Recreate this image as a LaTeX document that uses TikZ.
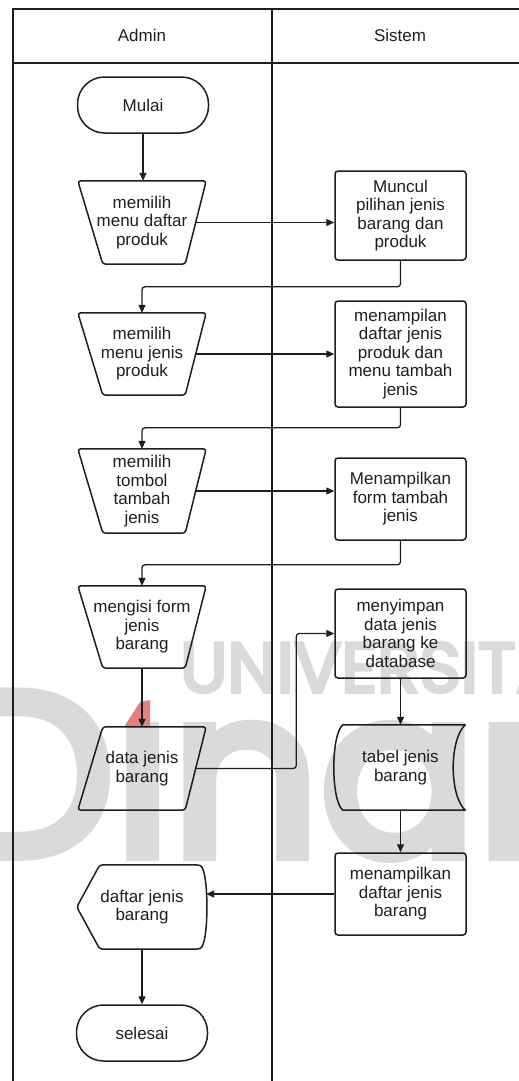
\documentclass[tikz,border=0pt]{standalone}
\usepackage{fontspec}
\setmainfont{Liberation Sans}
\newfontfamily\markfont[FakeBold=5]{Poppins}
\usetikzlibrary{arrows.meta,calc}
\definecolor{ink}{HTML}{1E1E1E}
\definecolor{wmark}{HTML}{DADADA}
\definecolor{wred}{HTML}{E58080}

% outlines for the shapes that are not plain boxes
\newcommand\manualshape[1]{%
  \draw[outline, rounded corners=3pt] (#1.north west) -- (#1.north east)
    -- ($(#1.south east)+(-21,0)$) -- ($(#1.south west)+(25,0)$) -- cycle;}
\newcommand\datashape[1]{%
  \draw[outline, rounded corners=3pt] ($(#1.north west)+(25,0)$) -- (#1.north east)
    -- ($(#1.south east)+(-21,0)$) -- (#1.south west) -- cycle;}
\newcommand\storeshape[1]{%
  \draw[outline] ($(#1.north west)+(8,0)$) -- ($(#1.north east)+(-1,0)$)
    .. controls ($(#1.north east)+(-17,15)$) and ($(#1.south east)+(-17,-15)$) .. ($(#1.south east)+(-1,0)$)
    -- ($(#1.south west)+(8,0)$)
    .. controls ($(#1.south west)+(-4,-10)$) and ($(#1.north west)+(-4,10)$) .. cycle;}
\newcommand\displayshape[1]{%
  \draw[outline, rounded corners=3pt] (#1.west) -- ($(#1.north west)+(23,0)$) -- ($(#1.north east)+(-10,0)$)
    .. controls ($(#1.north east)+(2,3)$) and ($(#1.south east)+(2,-3)$) .. ($(#1.south east)+(-10,0)$)
    -- ($(#1.south west)+(23,0)$) -- cycle;}

\tikzset{
  lab/.style={font=\fontsize{17}{18.5}\selectfont, text=ink, align=center},
  slot/.style={lab, rectangle, inner sep=0pt, draw=none},
  procbox/.style={lab, rectangle, draw=ink, line width=1.5pt, rounded corners=3pt,
    minimum width=131pt, inner sep=0pt},
  term/.style={lab, rectangle, draw=ink, line width=1.5pt, rounded corners=27pt,
    minimum width=131pt, minimum height=56pt},
  outline/.style={draw=ink, line width=1.5pt, line join=round},
  heavy/.style={line width=1.9pt},
  flow/.style={draw=ink, line width=1.3pt, rounded corners=3pt,
    -{Triangle[length=8pt,width=7pt]}},
  lane/.style={draw=ink, line width=2pt},
  wm/.style={text=wmark, inner sep=0pt, anchor=base west},
}

\begin{document}
\begin{tikzpicture}[x=1pt,y=-1pt]
\useasboundingbox (0,0) rectangle (519,1081);

% faint watermark behind the chart
\begin{scope}
  \clip (0,0) rectangle (519,1081);
  \node[wm, font=\markfont\fontsize{70}{70}\selectfont] (wmtop) at (180,692) {UNIVERSITAS};
  \node[wm, font=\markfont\fontsize{232}{232}\selectfont] (wmbig) at (-50,855) {Dınamika};
  \fill[wred] (124,727) -- (140,702) -- (150,700) -- (150,727) -- cycle;
\end{scope}

% swimlane frame
\draw[lane] (13,1095) -- (13,9) -- (530,9);
\draw[lane] (13,63) -- (530,63);
\draw[lane] (272,9) -- (272,1095);
\node[lab] (hadmin) at (142,35) {Admin};
\node[lab] (hsys) at (400,35) {Sistem};

% Admin lane
\node[term] (start) at (143,105) {Mulai};
\node[slot, minimum width=128pt, minimum height=83pt] (t1) at (142,222.5) {memilih\\menu daftar\\produk};
\node[slot, minimum width=128pt, minimum height=82pt] (t2) at (142,354) {memilih\\menu jenis\\produk};
\node[slot, minimum width=128pt, minimum height=84pt] (t3) at (142,491) {memilih\\tombol\\tambah\\jenis};
\node[slot, minimum width=128pt, minimum height=82pt] (t4) at (142,627) {mengisi form\\jenis\\barang};
\node[slot, minimum width=128pt, minimum height=83pt] (dat) at (142,768.5) {data jenis\\barang};
\node[slot, minimum width=130pt, minimum height=84pt] (show) at (142,907) {daftar jenis\\barang};
\node[term] (stop) at (142,1033) {selesai};
\begin{scope}[every path/.append style={heavy}]
\manualshape{t1}
\manualshape{t2}
\manualshape{t3}
\end{scope}
\manualshape{t4}
\datashape{dat}
\displayshape{show}

% Sistem lane
\node[procbox, minimum height=89pt] (b1) at (400.5,215.5) {Muncul\\pilihan jenis\\barang dan\\produk};
\node[procbox, minimum height=106pt] (b2) at (400.5,354) {menampilan\\daftar jenis\\produk dan\\menu tambah\\jenis};
\node[procbox, minimum height=82pt] (b3) at (400.5,499) {Menampilkan\\form tambah\\jenis};
\node[procbox, minimum height=89pt] (b4) at (400.5,633.5) {menyimpan\\data jenis\\barang ke\\database};
\node[slot, minimum width=131pt, minimum height=85pt] (tab) at (400.5,767.5) {tabel jenis\\barang};
\node[procbox, minimum height=82pt] (b5) at (400.5,894) {menampilkan\\daftar jenis\\barang};
\storeshape{tab}

% connectors
\draw[flow] (start.south) -- (start.south |- t1.north);
\draw[flow] ($(t1.east)+(-11,0)$) -- (t1.east -| b1.west);
\draw[flow] (b1.south) -- ++(0,26) -| (t2.north);
\draw[flow] ($(t2.east)+(-11,0)$) -- (t2.east -| b2.west);
\draw[flow] (b2.south) -- ++(0,20) -| (t3.north);
\draw[flow] ($(t3.east)+(-11,0)$) -- (t3.east -| b3.west);
\draw[flow] (b3.south) -- ++(0,24) -| (t4.north);
\draw[flow] (t4.south) -- (dat.north);
\draw[flow] ($(dat.east)+(-10.5,0)$) -- ($(dat.east -| b4.west)+(-38,0)$) |- (b4.west);
\draw[flow] (b4.south) -- (tab.north);
\draw[flow] (tab.south) -- (b5.north);
\draw[flow] (b5.west) -- ($(b5.west -| show.east)+(-1,0)$);
\draw[flow] (show.south) -- (stop.north);
\end{tikzpicture}
\end{document}
